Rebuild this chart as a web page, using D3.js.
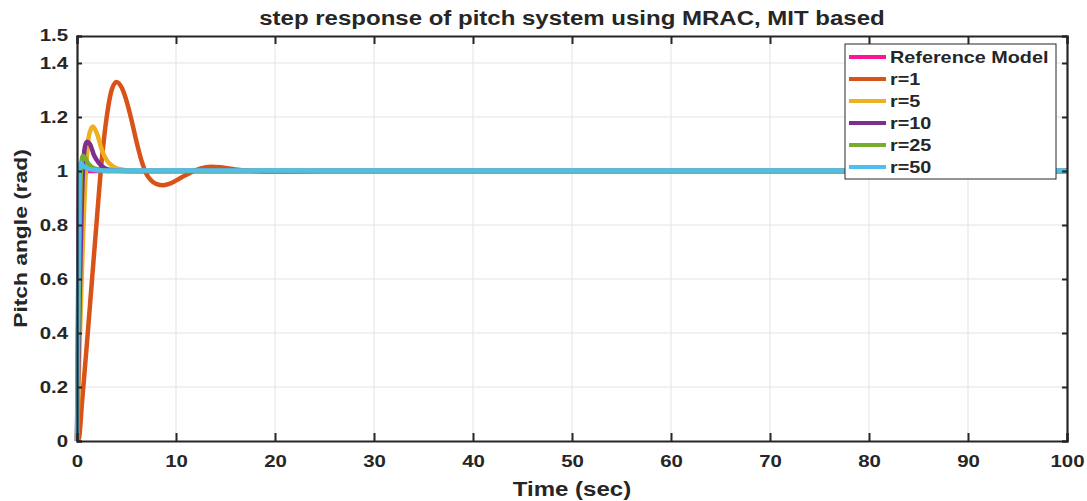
<!DOCTYPE html>
<html>
<head>
<meta charset="utf-8">
<script src="https://cdn.jsdelivr.net/npm/d3@7"></script>
<style>
	body { margin: 0; background: #fff; }
	text { font-family: 'Liberation Sans', Arial, sans-serif; font-weight: bold; fill: #262626; }
</style>
</head>
<body>
<script>
// series data (time in sec, pitch angle in rad)
const refT = [0, 0.2, 0.3, 0.5, 1, 100];
const refY = [0, 0.98, 1.005, 1.0, 1.0, 1.0];
const r1T = [0, 0.2, 0.5, 1, 1.5, 2, 2.5, 3, 3.5, 4, 4.5, 5, 5.5, 6, 6.5, 7, 7.5, 8, 8.7, 9.5, 10.5, 11.5, 12.5, 13.5, 14.5, 16, 18, 20, 25, 100];
const r1Y = [0, 0.01, 0.14, 0.36, 0.59, 0.82, 1.04, 1.2, 1.3, 1.33, 1.31, 1.26, 1.19, 1.11, 1.04, 0.99, 0.965, 0.952, 0.947, 0.955, 0.975, 0.995, 1.01, 1.016, 1.014, 1.006, 1.0, 0.998, 1.0, 1.0];
const r5T = [0, 0.9, 1.2, 1.6, 2.0, 2.5, 3, 3.5, 4, 5, 6, 100];
const r5Y = [0, 1.0, 1.13, 1.165, 1.14, 1.08, 1.04, 1.02, 1.01, 1.003, 1.0, 1.0];
const r10T = [0, 0.6, 0.8, 1.0, 1.3, 1.7, 2.2, 2.8, 3.5, 5, 100];
const r10Y = [0, 1.0, 1.09, 1.108, 1.1, 1.06, 1.03, 1.01, 1.003, 1.0, 1.0];
const r25T = [0, 0.4, 0.57, 0.8, 1.1, 1.5, 2.2, 3, 100];
const r25Y = [0, 1.0, 1.056, 1.05, 1.03, 1.015, 1.005, 1.0, 1.0];
const r50T = [0, 0.25, 0.37, 0.6, 1, 1.5, 2.5, 100];
const r50Y = [0, 1.0, 1.031, 1.02, 1.01, 1.005, 1.002, 1.002];

const seriesNames = ['Reference Model', 'r=1', 'r=5', 'r=10', 'r=25', 'r=50'];
const xTicks = [0, 10, 20, 30, 40, 50, 60, 70, 80, 90, 100];
const yTicks = [0, 0.2, 0.4, 0.6, 0.8, 1, 1.2, 1.4, 1.5];
const yGrid = [0.2, 0.4, 0.6, 0.8, 1, 1.2, 1.4];

const colors = ['#ff1493', '#d95319', '#edb120', '#7e2f8e', '#77ac30', '#4dbeee'];
const series = [[refT, refY], [r1T, r1Y], [r5T, r5Y], [r10T, r10Y], [r25T, r25Y], [r50T, r50Y]]
	.map((s, i) => ({ name: seriesNames[i], color: colors[i], pts: s[0].map((t, j) => [t, s[1][j]]) }));

const W = 1087, H = 501;
const margin = { top: 36, right: 20, bottom: 60, left: 77 };
const width = W - margin.left - margin.right;
const height = H - margin.top - margin.bottom;
const ink = '#262626';
const STRETCH = 1.2;

const x = d3.scaleLinear().domain([0, 100]).range([0, width]);
const y = d3.scaleLinear().domain([0, 1.5]).range([height, 0]);

const svg = d3.select('body').append('svg').attr('width', W).attr('height', H);
const g = svg.append('g').attr('transform', 'translate(' + margin.left + ',' + margin.top + ')');

// the source picture is a bit wider than tall, so widen the glyphs
function stretch(sel) {
	sel.each(function () {
		const w = this.getComputedTextLength();
		d3.select(this).attr('textLength', w * STRETCH).attr('lengthAdjust', 'spacingAndGlyphs');
	});
}

// grid
g.append('g').selectAll('line').data(xTicks.slice(1, -1)).join('line')
	.attr('x1', d => x(d)).attr('x2', d => x(d)).attr('y1', 0).attr('y2', height)
	.attr('stroke', '#e3e3e3').attr('stroke-width', 1);
g.append('g').selectAll('line').data(yGrid).join('line')
	.attr('y1', d => y(d)).attr('y2', d => y(d)).attr('x1', 0).attr('x2', width)
	.attr('stroke', '#e3e3e3').attr('stroke-width', 1);

// lines
const line = d3.line().x(d => x(d[0])).y(d => y(d[1])).curve(d3.curveMonotoneX);
g.append('g').selectAll('path').data(series).join('path')
	.attr('d', d => line(d.pts))
	.attr('fill', 'none')
	.attr('stroke', d => d.color)
	.attr('stroke-width', 4.5)
	.attr('stroke-linejoin', 'round');

// axes (matlab style, ticks inward, box on)
const xAx = g.append('g').attr('transform', 'translate(0,' + height + ')')
	.call(d3.axisBottom(x).tickValues(xTicks).tickSize(-8).tickPadding(14).tickFormat(d3.format('d')));
const yAx = g.append('g')
	.call(d3.axisLeft(y).tickValues(yTicks).tickSize(-5).tickPadding(9).tickFormat(d => d === 0 ? '0' : d3.format('')(d)));
g.append('g').call(d3.axisTop(x).tickValues(xTicks).tickSize(-8).tickFormat(''));
g.append('g').attr('transform', 'translate(' + width + ',0)')
	.call(d3.axisRight(y).tickValues(yTicks).tickSize(-5).tickFormat(''));

g.selectAll('.domain').attr('stroke', ink).attr('stroke-width', 2.2);
g.selectAll('.tick line').attr('stroke', ink).attr('stroke-width', 2);
g.selectAll('.tick text').style('font-size', '17px').attr('fill', ink)
	.style('font-family', "'Liberation Sans', Arial, sans-serif").style('font-weight', 'bold');
xAx.selectAll('.tick text').call(stretch);
yAx.selectAll('.tick text').call(stretch);
yAx.selectAll('.tick').filter(d => d === 1.5).select('text').attr('dy', '0.25em');

// title and axis labels
svg.append('text').attr('x', margin.left + width / 2).attr('y', 25)
	.attr('text-anchor', 'middle').style('font-size', '20px')
	.text('step response of pitch system using MRAC, MIT based').call(stretch);
svg.append('text').attr('x', margin.left + width / 2).attr('y', 496)
	.attr('text-anchor', 'middle').style('font-size', '20px')
	.text('Time (sec)').call(stretch);
svg.append('text').attr('transform', 'translate(27,' + (margin.top + height / 2) + ') rotate(-90)')
	.attr('text-anchor', 'middle').style('font-size', '19px')
	.text('Pitch angle (rad)').call(stretch);

// legend
const lg = svg.append('g').attr('transform', 'translate(845,44)');
lg.append('rect').attr('width', 211).attr('height', 135)
	.attr('fill', '#fff').attr('stroke', ink).attr('stroke-width', 1);
const item = lg.selectAll('g.item').data(series).join('g').attr('class', 'item')
	.attr('transform', (d, i) => 'translate(0,' + (13 + i * 22) + ')');
item.append('line').attr('x1', 4).attr('x2', 41).attr('stroke', d => d.color).attr('stroke-width', 4);
item.append('text').attr('x', 45).attr('dy', '0.35em').style('font-size', '16.5px')
	.text(d => d.name).call(stretch);
</script>
</body>
</html>
